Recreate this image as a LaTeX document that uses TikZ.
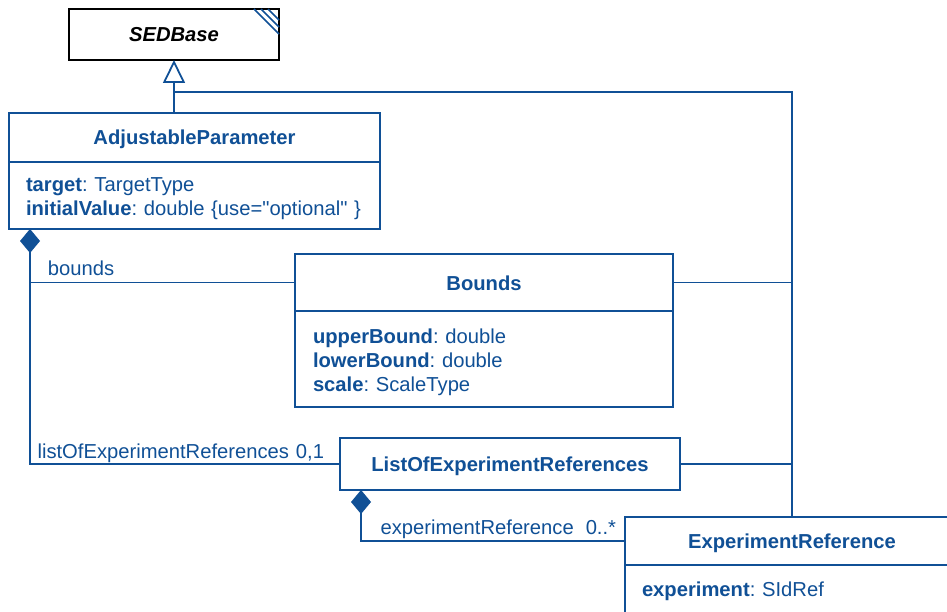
\documentclass[tikz,border=0pt]{standalone}
\usepackage{fontspec}
\setmainfont{Liberation Sans}
\usetikzlibrary{arrows.meta,calc,positioning}
\definecolor{umlblue}{RGB}{16,80,150}
\newcommand{\umlsize}{\fontsize{20.2pt}{24pt}\selectfont\frenchspacing}
\newcommand{\attrstrut}{\rule{0pt}{21pt}}
\tikzset{
  classbox/.style={draw=umlblue, line width=1.8pt, fill=white, text=umlblue,
    font=\umlsize\bfseries, anchor=north west, inner sep=0pt, outer sep=0pt,
    text height=15pt, text depth=0pt},
  attrbox/.style={draw=umlblue, line width=1.8pt, fill=white, text=umlblue,
    font=\umlsize, anchor=north west, align=left, inner xsep=17pt, inner ysep=0pt, outer sep=0pt},
  link/.style={draw=umlblue, line width=1.8pt},
  role/.style={text=umlblue, font=\umlsize, anchor=base west, inner sep=0pt},
  comp/.style={link, {Diamond[length=24pt, width=20pt, fill=umlblue]}-},
}

\begin{document}
\begin{tikzpicture}[x=1pt, y=-1pt]
  \useasboundingbox (0,0) rectangle (947,612);
  \clip (0,0) rectangle (947,612);

  % classes
  \node[classbox, draw=black, text=black, font=\umlsize\bfseries\itshape,
        minimum width=210pt, minimum height=51pt] (sed) at (69,9) {SEDBase};
  \foreach \d in {11,18,25}
    \draw[link, line width=1.5pt] ($(sed.north east)+(-\d,0)$) -- ($(sed.north east)+(0,\d)$);

  \node[classbox, minimum width=371pt, minimum height=49pt] (adj) at (9,113) {AdjustableParameter};
  \node[attrbox, text width=337pt, minimum height=67pt] (adjattr) at (adj.south west)
    {\attrstrut\textbf{target}: TargetType\\
     \textbf{initialValue}: double \{use=\textquotedbl optional\textquotedbl\ \}};

  \node[classbox, minimum width=378pt, minimum height=57pt] (bounds) at (295,254) {Bounds};
  \node[attrbox, inner xsep=18pt, text width=342pt, minimum height=96pt] (boundsattr) at (bounds.south west)
    {\attrstrut\textbf{upperBound}: double\\
     \textbf{lowerBound}: double\\
     \textbf{scale}: ScaleType};

  \node[classbox, minimum width=340pt, minimum height=52pt] (listof) at (340,438) {ListOfExperimentReferences};

  \node[classbox, minimum width=334pt, minimum height=48pt] (expref) at (625,517) {ExperimentReference};
  \node[attrbox, text width=300pt, minimum height=52pt] (exprefattr) at (expref.south west)
    {\textbf{experiment}: SIdRef};

  % generalisation
  \coordinate (genfoot) at (sed.south |- adj.north);
  \draw[link, -{Triangle[open, length=23pt, width=22pt, fill=white]}] (genfoot) -- (sed.south);
  \coordinate (genjoin) at ($(genfoot)+(0,-21)$);
  \draw[link] (genjoin) -| (expref.north);
  \draw[link] (bounds.east) -- (bounds.east -| expref.north);
  \draw[link] (listof.east) -- (listof.east -| expref.north);

  % compositions
  \coordinate (adjdia) at ($(adjattr.south west)+(21,0)$);
  \draw[comp] (adjdia) |- node[role, pos=1, anchor=base east, xshift=-15pt, yshift=6pt]
    {listOfExperimentReferences\hspace{7pt}0,1} (listof.west);
  \draw[link] (adjdia |- bounds.west) -- node[role, pos=0, xshift=17pt, yshift=7pt] {bounds} (bounds.west);

  \coordinate (lodia) at ($(listof.south west)+(21,0)$);
  \draw[comp] (lodia) |- node[role, pos=1, anchor=base east, xshift=-8pt, yshift=7pt]
    {experimentReference\hspace{12pt}0..*} (expref.west);
\end{tikzpicture}
\end{document}
